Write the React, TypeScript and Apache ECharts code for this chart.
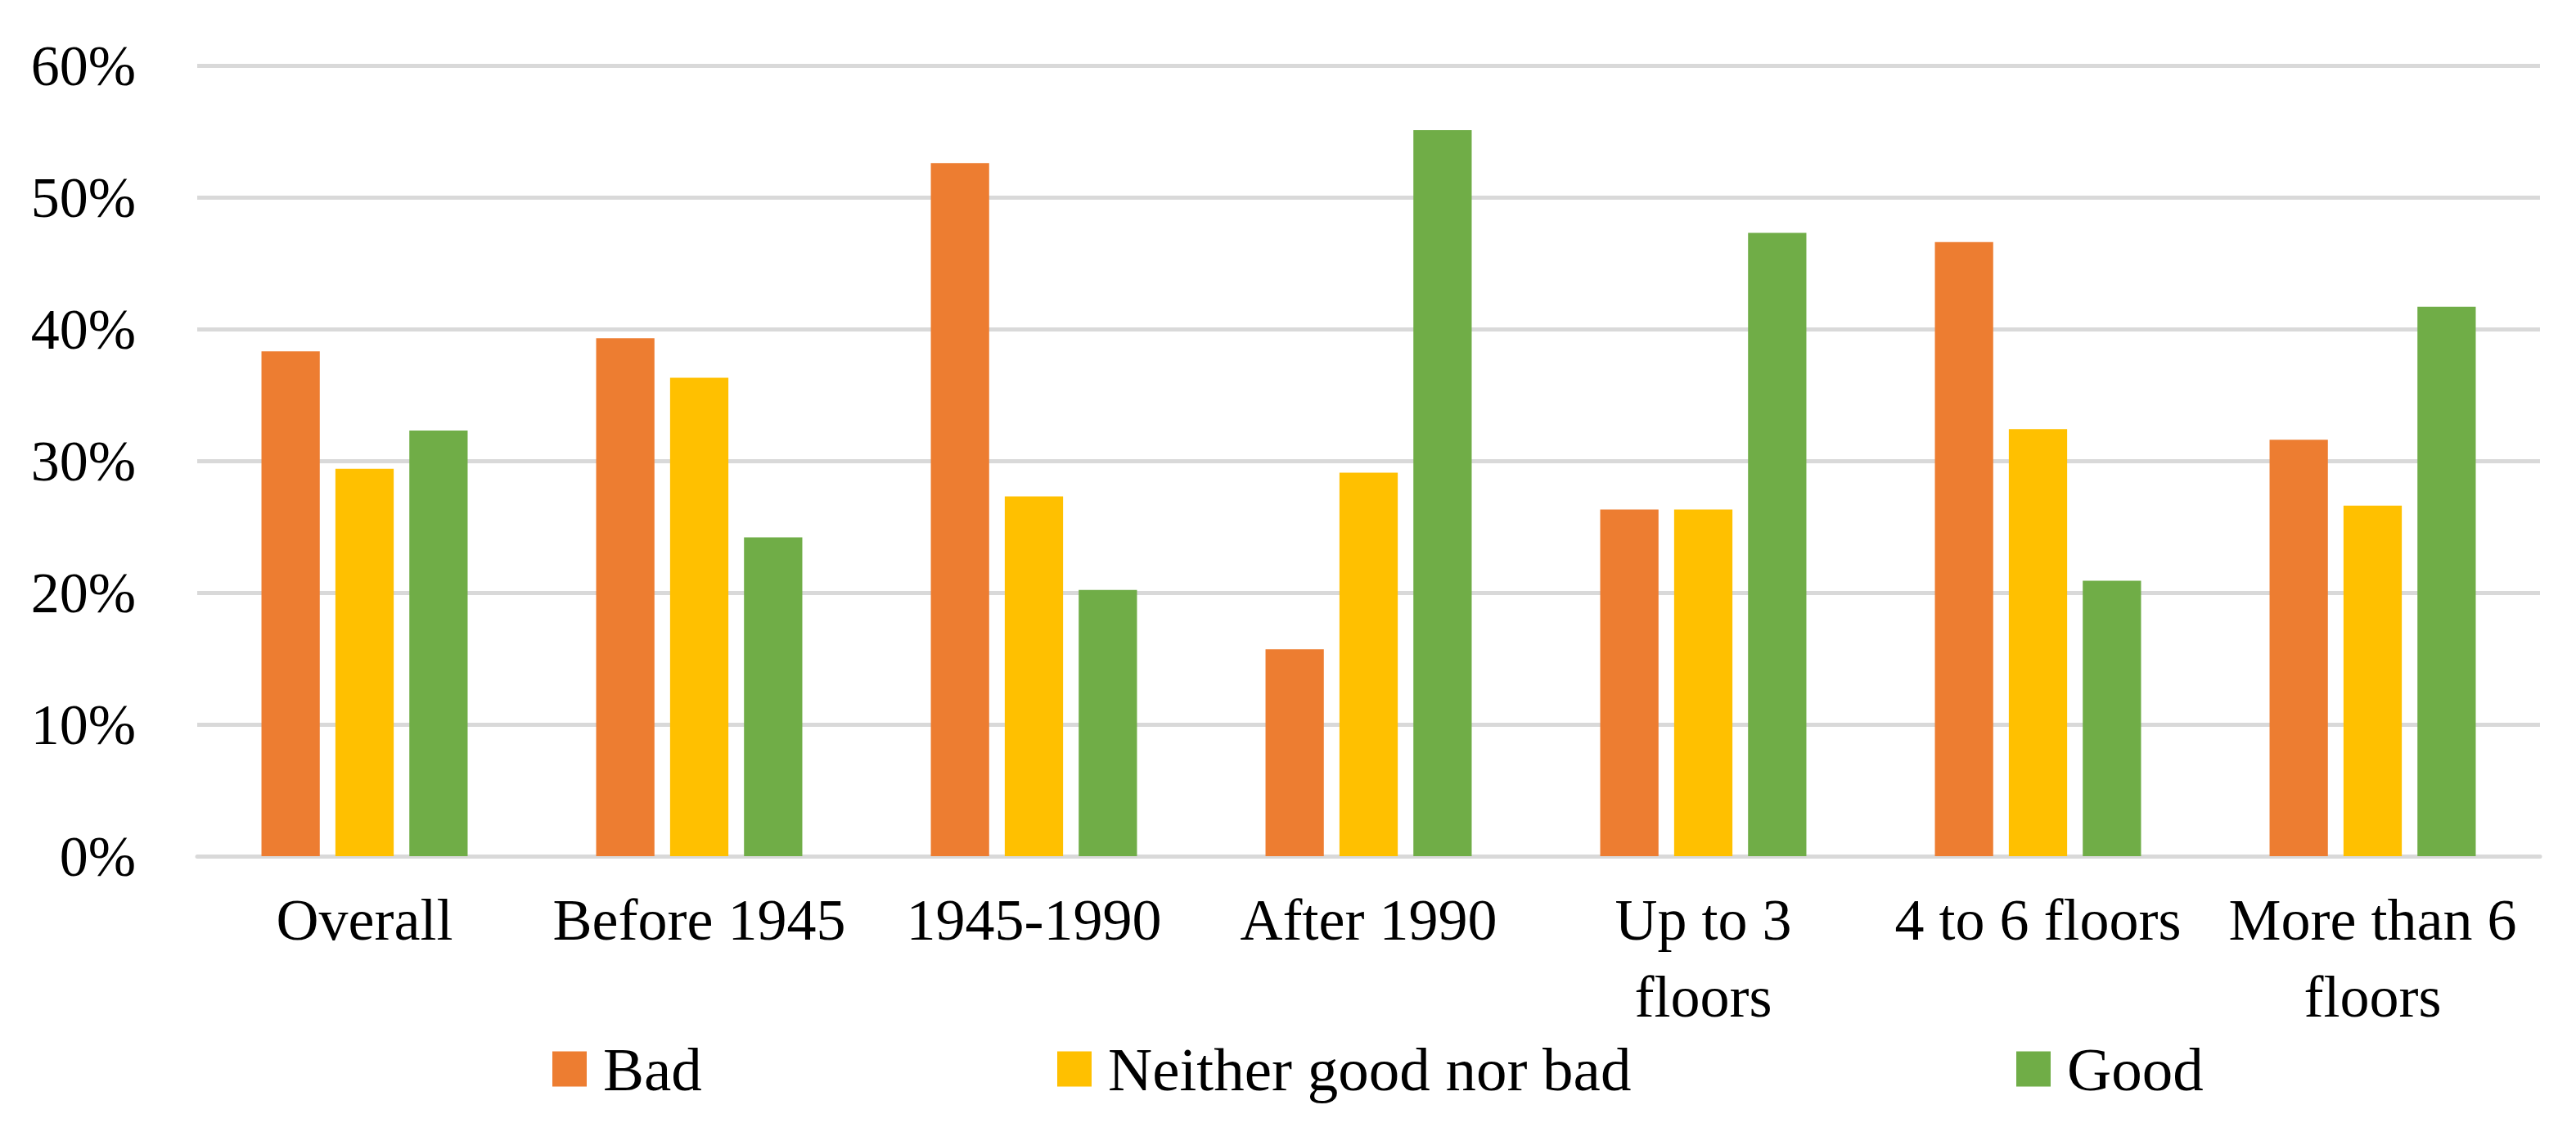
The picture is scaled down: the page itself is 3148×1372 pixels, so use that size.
import React, { useEffect, useRef } from "react";
import * as echarts from "echarts";

const categories = [
  "Overall",
  "Before 1945",
  "1945-1990",
  "After 1990",
  "Up to 3\nfloors",
  "4 to 6 floors",
  "More than 6\nfloors",
];
const seriesNames = ["Bad", "Neither good nor bad", "Good"];
const badValues = [38.3, 39.3, 52.6, 15.7, 26.3, 46.6, 31.6];
const neitherValues = [29.4, 36.3, 27.3, 29.1, 26.3, 32.4, 26.6];
const goodValues = [32.3, 24.2, 20.2, 55.1, 47.3, 20.9, 41.7];
const yTicks = { min: 0, max: 60, interval: 10 };

const colors = ["#ED7D31", "#FFC000", "#70AD47"];
const FONT = "Liberation Serif";

export default function App() {
  const ref = useRef<HTMLDivElement>(null);
  useEffect(() => {
    document.body.style.margin = "0";
    const chart = echarts.init(ref.current!, null, { renderer: "svg" });
    const values = [badValues, neitherValues, goodValues];
    const legendLefts = [675, 1292, 2464];
    chart.setOption({
      animation: false,
      backgroundColor: "#ffffff",
      grid: { left: 241, right: 44, top: 80, bottom: 326, containLabel: false },
      legend: seriesNames.map((n, i) => ({
        data: [n],
        left: legendLefts[i],
        top: 1266,
        padding: 0,
        itemWidth: 42,
        itemHeight: 43,
        icon: "rect",
        selectedMode: false,
        textStyle: {
          fontFamily: FONT,
          fontSize: 75,
          color: "#000000",
          lineHeight: 80,
          padding: [0, 0, 0, 15],
        },
      })),
      xAxis: {
        type: "category",
        data: categories,
        axisLine: { show: true, lineStyle: { color: "#D9D9D9", width: 5 } },
        axisTick: { show: false },
        axisLabel: {
          interval: 0,
          margin: 31,
          fontFamily: FONT,
          fontSize: 72,
          lineHeight: 94,
          color: "#000000",
        },
      },
      yAxis: {
        type: "value",
        min: yTicks.min,
        max: yTicks.max,
        interval: yTicks.interval,
        axisLine: { show: false },
        axisTick: { show: false },
        splitLine: { lineStyle: { color: "#D9D9D9", width: 5 } },
        axisLabel: {
          formatter: "{value}%",
          margin: 75,
          fontFamily: FONT,
          fontSize: 70,
          color: "#000000",
        },
      },
      series: seriesNames.map((n, i) => ({
        name: n,
        type: "bar",
        data: values[i],
        itemStyle: { color: colors[i] },
        barGap: "26.8%",
        barCategoryGap: "38.4%",
      })),
    });
    return () => chart.dispose();
  }, []);
  return (
    <div
      ref={ref}
      style={{ position: "absolute", left: 0, top: 0, width: 3148, height: 1372 }}
    />
  );
}
